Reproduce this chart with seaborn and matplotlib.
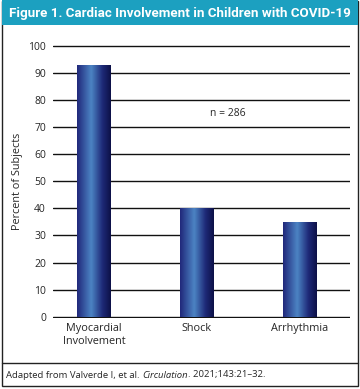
import numpy as np
import pandas as pd
import matplotlib
matplotlib.use('Agg')
import matplotlib.pyplot as plt
import seaborn as sns
from matplotlib.colors import LinearSegmentedColormap
from matplotlib.patches import Rectangle

# data
categories = ['Myocardial\nInvolvement', 'Shock', 'Arrhythmia']
percent = [93, 40, 35]
yticks = [0, 10, 20, 30, 40, 50, 60, 70, 80, 90, 100]
n_label = 'n = 286'

title = 'Figure 1. Cardiac Involvement in Children with COVID-19'
source_plain = 'Adapted from Valverde I, et al. '
source_italic = 'Circulation'
source_end = '. 2021;143:21\u201332.'

teal = '#1ca0c0'

sns.set_style('white')
plt.rcParams['font.family'] = ['Open Sans', 'DejaVu Sans']

df = pd.DataFrame({'cat': categories, 'pct': percent})

fig = plt.figure(figsize=(3.6, 3.89), dpi=100)
ax = fig.add_axes([0.147, 0.183, 0.825, 0.702])

sns.barplot(data=df, x='cat', y='pct', ax=ax, width=0.33, color='#1a2070',
            edgecolor='none', linewidth=0)

# gradient fill on each bar
cmap = LinearSegmentedColormap.from_list(
    'bar', [(0, '#20277a'), (0.42, '#4c84c4'), (0.75, '#1e2a78'), (1, '#0c1046')])
grad = np.linspace(0, 1, 256).reshape(1, -1)
for p in ax.patches:
    x0, y0 = p.get_x(), p.get_y()
    w, h = p.get_width(), p.get_height()
    ax.imshow(grad, cmap=cmap, aspect='auto', extent=[x0, x0 + w, y0, y0 + h],
              zorder=3, interpolation='bicubic')
    p.set_visible(False)

ax.set_xlim(-0.4, 2.49)
ax.set_ylim(-0.4, 100.4)
ax.set_yticks(yticks)
ax.set_yticklabels([str(t) for t in yticks], fontsize=7.5)
ax.tick_params(axis='both', length=0, pad=5)
ax.tick_params(axis='x', labelsize=7.8, pad=4)
ax.yaxis.grid(True, color='#111111', linewidth=1.0)
ax.set_axisbelow(True)
for s in ax.spines.values():
    s.set_visible(False)
ax.set_xlabel('')
ax.set_ylabel('Percent of Subjects', fontsize=7.8, labelpad=4)

ax.text(1.30, 75, n_label, fontsize=7.5, ha='center', va='center')

# frame, title bar, source line
fig.patches.append(Rectangle((2 / 360, 3 / 389), 356 / 360, 385 / 389,
                             transform=fig.transFigure, fill=False,
                             edgecolor='#222222', linewidth=1.0))
fig.patches.append(Rectangle((2 / 360, 364 / 389), 356 / 360, 25 / 389,
                             transform=fig.transFigure, facecolor=teal,
                             edgecolor='none'))
fig.add_artist(plt.Line2D([2 / 360, 358 / 360], [26 / 389, 26 / 389],
                          color='#222222', linewidth=1.0))

fig.canvas.draw()
r = fig.canvas.get_renderer()

# title sized to fill the bar like the condensed original
tt = fig.text(9 / 360, 376 / 389, title, color='white', fontsize=10,
              fontweight='bold', family=['Roboto', 'DejaVu Sans'],
              va='center', ha='left')
w = tt.get_window_extent(r).width
tt.set_fontsize(10 * 342 / w)

t1 = fig.text(6 / 360, 14 / 389, source_plain, fontsize=6.8, va='center')
bb = t1.get_window_extent(r)
t2 = fig.text(bb.x1 / 360, 14 / 389, source_italic, fontsize=6.8, va='center',
              style='italic')
bb = t2.get_window_extent(r)
fig.text(bb.x1 / 360, 14 / 389, source_end, fontsize=6.8, va='center')

fig.savefig('out.png', dpi=100)
